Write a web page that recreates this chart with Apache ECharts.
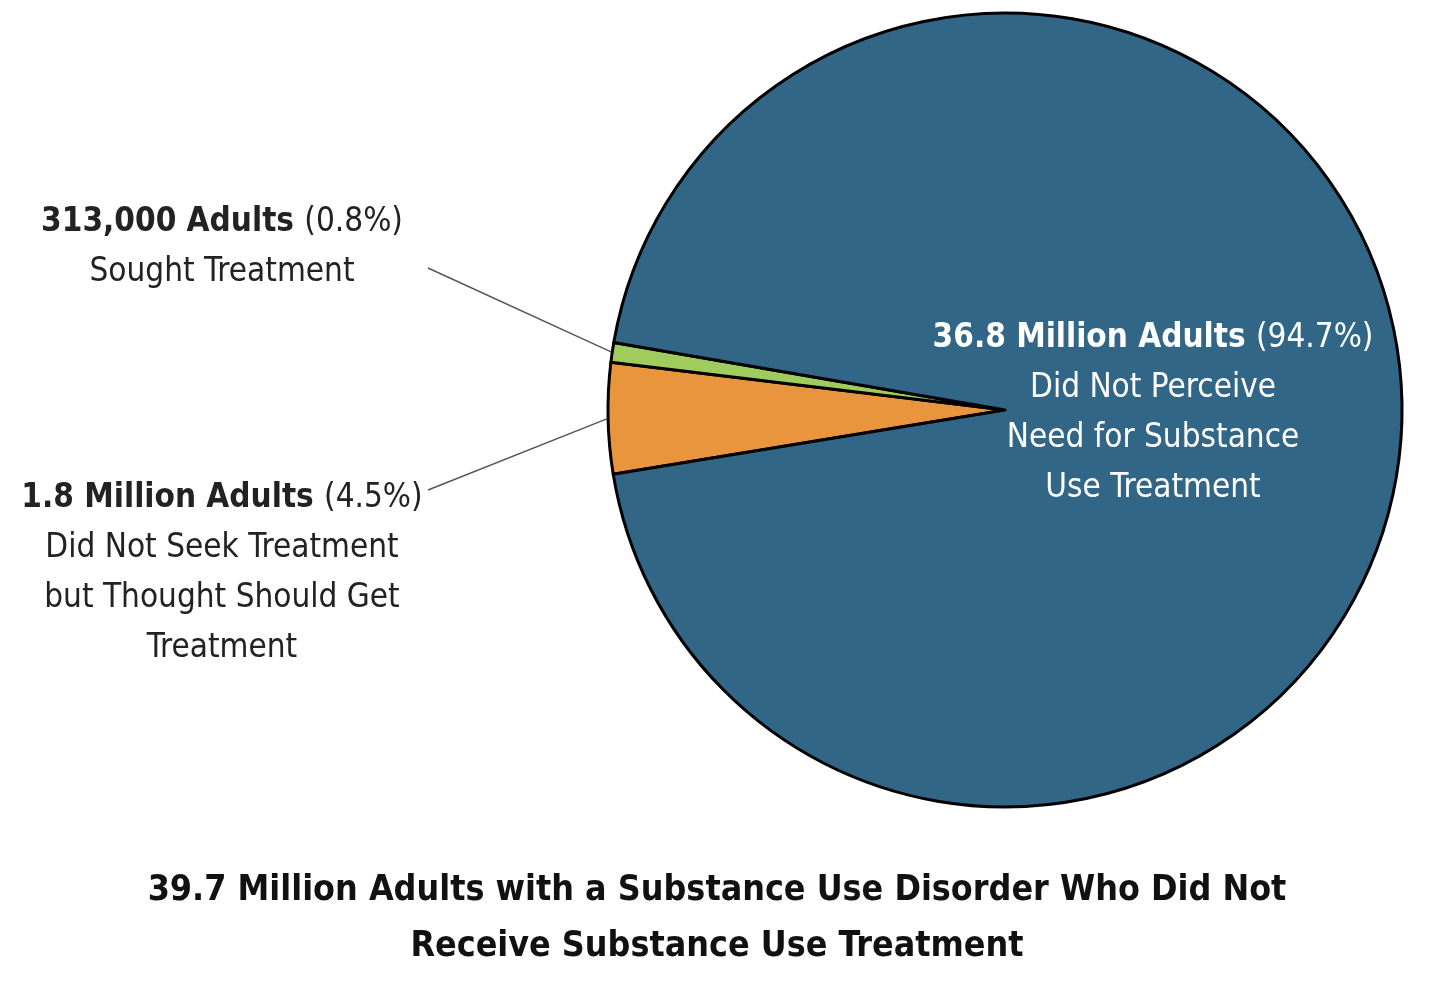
<!DOCTYPE html>
<html><head><meta charset="utf-8">
<script src="https://cdn.jsdelivr.net/npm/echarts@6/dist/echarts.min.js"></script>
<style>html,body{margin:0;padding:0;background:#fff}#c{width:1445px;height:990px}</style>
</head><body><div id="c"></div>
<script>
const categories = ["Did Not Seek Treatment but Thought Should Get Treatment", "Sought Treatment", "Did Not Perceive Need for Substance Use Treatment"];
const counts = ["1.8 Million Adults", "313,000 Adults", "36.8 Million Adults"];
const percents = [4.5, 0.8, 94.7];
const descLines = [
  ["Did Not Seek Treatment", "but Thought Should Get", "Treatment"],
  ["Sought Treatment"],
  ["Did Not Perceive", "Need for Substance", "Use Treatment"]
];
const colors = ["#E9953D", "#A0CC5E", "#326686"];
const titleText = "39.7 Million Adults with a Substance Use Disorder Who Did Not\nReceive Substance Use Treatment";

const FONT = '"Liberation Sans Narrow", "DejaVu Sans Condensed", Arial, sans-serif';
const labelPos = [
  {x: 222, y: 473, lx: 428, ly: 490, line: true, color: '#222'},
  {x: 222, y: 197, lx: 428, ly: 268, line: true, color: '#222'},
  {x: 1153, y: 313, line: false, color: '#fff'}
];

const data = categories.map((c, i) => ({
  name: c,
  value: percents[i],
  itemStyle: {color: colors[i]},
  label: {
    color: labelPos[i].color,
    formatter: '{b|' + counts[i] + ' }{n|(' + percents[i] + '%)}\n' + descLines[i].map(s => '{n|' + s + '}').join('\n'),
    rich: {
      b: {fontFamily: FONT, fontWeight: 'bold', fontSize: 33, lineHeight: 50, color: labelPos[i].color},
      n: {fontFamily: FONT, fontSize: 33, lineHeight: 50, color: labelPos[i].color}
    }
  },
  labelLine: {show: labelPos[i].line}
}));

const chart = echarts.init(document.getElementById('c'), null, {renderer: 'canvas'});
chart.setOption({
  backgroundColor: '#fff',
  animation: false,
  title: {
    text: titleText,
    left: 712, top: 858, textAlign: 'center',
    textStyle: {fontFamily: FONT, fontWeight: 'bold', fontSize: 35.5, lineHeight: 56, color: '#111'}
  },
  series: [{
    type: 'pie',
    center: [1005, 410],
    radius: 397,
    startAngle: 189.3,
    clockwise: true,
    avoidLabelOverlap: false,
    itemStyle: {borderColor: '#000', borderWidth: 3},
    label: {show: true, position: 'outside', align: 'center'},
    labelLine: {show: true, length: 20, length2: 20, lineStyle: {color: '#555', width: 1.4}},
    labelLayout: function (params) {
      const p = labelPos[params.dataIndex];
      const out = {x: p.x, y: p.y, align: 'center', verticalAlign: 'top'};
      if (p.line && params.labelLinePoints) {
        const e = params.labelLinePoints[0];
        out.labelLinePoints = [[e[0], e[1]], [p.lx, p.ly], [p.lx, p.ly]];
      }
      return out;
    },
    data: data
  }]
});
</script></body></html>
